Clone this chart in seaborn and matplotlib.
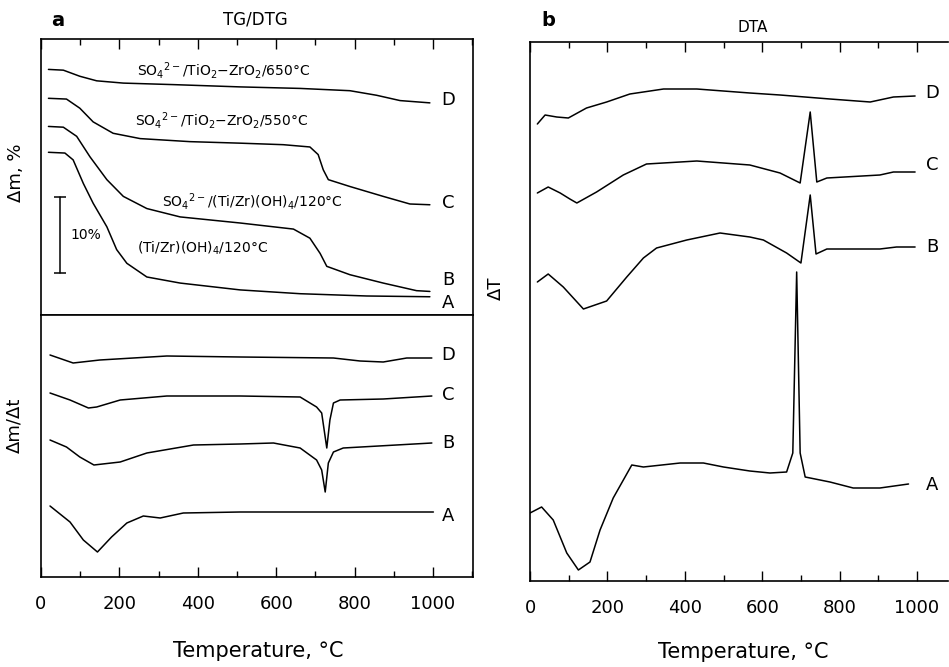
import numpy as np
import pandas as pd
import matplotlib
matplotlib.use("Agg")
import matplotlib.pyplot as plt
import seaborn as sns
from matplotlib.ticker import MultipleLocator

sns.set_theme(style="white")
plt.rcParams['font.family'] = ['DejaVu Sans']
plt.rcParams['mathtext.default'] = 'regular'
plt.rcParams['text.color'] = 'black'
plt.rcParams['axes.labelcolor'] = 'black'
plt.rcParams['xtick.color'] = 'black'
plt.rcParams['ytick.color'] = 'black'

# ---- TG curves (mass, %, arbitrary offset) ----
tg_d_t = [19, 57, 99, 142, 210, 338, 508, 661, 788, 856, 916, 992]
tg_d_y = [32.3, 32.2, 31.4, 30.8, 30.5, 30.3, 30.0, 29.8, 29.5, 28.9, 28.2, 27.9]

tg_c_t = [19, 65, 99, 133, 184, 253, 380, 508, 618, 686, 707, 720, 733, 788, 873, 941, 992]
tg_c_y = [28.5, 28.4, 27.2, 25.4, 23.9, 23.2, 22.8, 22.6, 22.4, 22.1, 21.1, 19.1, 17.8, 16.9, 15.6, 14.6, 14.5]

tg_b_t = [19, 57, 91, 125, 168, 210, 270, 355, 508, 644, 686, 712, 729, 788, 873, 958, 992]
tg_b_y = [24.8, 24.7, 23.5, 20.8, 17.8, 15.6, 14.0, 12.9, 12.1, 11.3, 10.1, 8.1, 6.4, 5.3, 4.2, 3.2, 3.1]

tg_a_t = [19, 61, 82, 108, 133, 168, 193, 219, 270, 355, 508, 661, 831, 992]
tg_a_y = [21.4, 21.3, 20.4, 17.3, 14.7, 11.6, 8.6, 6.8, 5.0, 4.2, 3.3, 2.8, 2.5, 2.4]

# ---- DTG curves (arbitrary units) ----
dtg_d_t = [23, 82, 150, 321, 508, 746, 814, 873, 933, 997]
dtg_d_y = [22.2, 21.4, 21.7, 22.1, 22.0, 21.9, 21.6, 21.5, 21.9, 21.9]

dtg_c_t = [23, 74, 121, 142, 202, 321, 508, 661, 703, 716, 729, 737, 746, 763, 873, 997]
dtg_c_y = [18.4, 17.7, 16.9, 17.0, 17.7, 18.1, 18.1, 18.0, 17.0, 16.4, 12.9, 15.7, 17.4, 17.7, 17.8, 18.1]

dtg_b_t = [23, 65, 99, 135, 202, 270, 389, 508, 593, 661, 703, 716, 725, 733, 746, 771, 997]
dtg_b_y = [13.7, 13.0, 12.0, 11.2, 11.5, 12.4, 13.2, 13.3, 13.4, 12.9, 11.7, 10.7, 8.5, 11.4, 12.5, 12.9, 13.4]

dtg_a_t = [23, 74, 108, 144, 180, 219, 261, 304, 363, 508, 1001]
dtg_a_y = [7.1, 5.5, 3.7, 2.5, 4.0, 5.4, 6.1, 5.9, 6.4, 6.5, 6.5]

# ---- DTA curves (arbitrary units) ----
dta_d_t = [19, 39, 69, 99, 146, 198, 258, 345, 431, 568, 646, 775, 879, 939, 995]
dta_d_y = [45.7, 46.6, 46.4, 46.3, 47.3, 47.9, 48.7, 49.2, 49.2, 48.8, 48.6, 48.2, 47.9, 48.4, 48.5]

dta_c_t = [19, 47, 78, 103, 121, 172, 241, 301, 431, 568, 646, 698, 724, 741, 767, 904, 939, 995]
dta_c_y = [38.8, 39.4, 38.8, 38.2, 37.8, 38.9, 40.6, 41.7, 42.0, 41.6, 40.8, 39.8, 46.9, 39.9, 40.3, 40.6, 40.9, 40.9]

dta_b_t = [19, 47, 86, 138, 198, 250, 293, 327, 405, 491, 568, 603, 663, 700, 724, 739, 767, 904, 947, 995]
dta_b_y = [29.9, 30.7, 29.4, 27.2, 28.0, 30.4, 32.3, 33.3, 34.1, 34.8, 34.4, 34.1, 32.8, 31.8, 38.6, 32.7, 33.2, 33.2, 33.4, 33.4]

dta_a_t = [0, 30, 60, 95, 125, 155, 181, 215, 263, 293, 388, 448, 500, 568, 620, 663, 679, 689, 698, 711, 775, 835, 904, 978]
dta_a_y = [6.8, 7.4, 6.1, 2.8, 1.1, 1.9, 5.1, 8.3, 11.6, 11.4, 11.8, 11.8, 11.4, 11.0, 10.8, 10.9, 12.8, 30.9, 12.8, 10.4, 9.9, 9.3, 9.3, 9.7]

curve_names = ["A", "B", "C", "D"]
tg_label_y = [1.6, 4.6, 14.7, 28.3]
dtg_label_y = [6.1, 13.4, 18.2, 22.2]
dta_label_y = [9.6, 33.4, 41.6, 48.8]

tg_notes = [r"SO$_4$$^{2-}$/TiO$_2$$-$ZrO$_2$/650°C",
            r"SO$_4$$^{2-}$/TiO$_2$$-$ZrO$_2$/550°C",
            r"SO$_4$$^{2-}$/(Ti/Zr)(OH)$_4$/120°C",
            r"(Ti/Zr)(OH)$_4$/120°C"]
tg_note_x = [245, 240, 308, 245]
tg_note_y = [32.2, 25.6, 14.9, 8.8]

W, H = 949, 667
fig = plt.figure(figsize=(W / 100, H / 100), dpi=100)
ax_tg = fig.add_axes([41 / W, 1 - 315 / H, 432 / W, 276 / H])
ax_dtg = fig.add_axes([41 / W, 1 - 577 / H, 432 / W, 262 / H])
ax_dta = fig.add_axes([530 / W, 1 - 581 / H, 418 / W, 539 / H])

lw = 1.1
tg = [(tg_a_t, tg_a_y), (tg_b_t, tg_b_y), (tg_c_t, tg_c_y), (tg_d_t, tg_d_y)]
dtg = [(dtg_a_t, dtg_a_y), (dtg_b_t, dtg_b_y), (dtg_c_t, dtg_c_y), (dtg_d_t, dtg_d_y)]
dta = [(dta_a_t, dta_a_y), (dta_b_t, dta_b_y), (dta_c_t, dta_c_y), (dta_d_t, dta_d_y)]

for ax, curves, lab_y, lab_x in [(ax_tg, tg, tg_label_y, 1038),
                                 (ax_dtg, dtg, dtg_label_y, 1038),
                                 (ax_dta, dta, dta_label_y, 1040)]:
    for (t, y), name, ly in zip(curves, curve_names, lab_y):
        sns.lineplot(x=t, y=y, ax=ax, color="black", lw=lw, estimator=None, sort=False)
        ax.text(lab_x, ly, name, fontsize=13, ha="center", va="center")

for note, nx_, ny_ in zip(tg_notes, tg_note_x, tg_note_y):
    ax_tg.text(nx_, ny_, note, fontsize=10, ha="left", va="center")

# 10% scale bar
ax_tg.plot([48, 48], [5.5, 15.5], color="black", lw=1.1, marker="_", ms=9, mew=1.1)
ax_tg.text(74, 10.5, "10%", fontsize=10, ha="left", va="center")

ax_tg.set_xlim(0, 1102)
ax_dtg.set_xlim(0, 1102)
ax_dta.set_xlim(0, 1080)
ax_tg.set_ylim(0, 36.3)
ax_dtg.set_ylim(0, 26.2)
ax_dta.set_ylim(0, 53.9)

for ax in (ax_tg, ax_dtg, ax_dta):
    ax.xaxis.set_major_locator(MultipleLocator(200))
    ax.xaxis.set_minor_locator(MultipleLocator(100))
    ax.set_yticks([])
    ax.set_xlabel("")
    ax.set_ylabel("")
    for s in ax.spines.values():
        s.set_color("black")
        s.set_linewidth(1.2)
    ax.tick_params(axis="x", which="major", direction="in", length=7, width=1.0,
                   color="black", labelsize=13, pad=13)
    ax.tick_params(axis="x", which="minor", direction="in", length=4, width=1.0, color="black")

ax_tg.tick_params(axis="x", which="both", top=True, bottom=False, labelbottom=False)
ax_dtg.tick_params(axis="x", which="both", top=False, bottom=True)
ax_dta.tick_params(axis="x", which="both", top=True, bottom=True)
ax_dta.spines["right"].set_visible(False)

ax_dtg.set_xticks([0, 200, 400, 600, 800, 1000])
ax_dta.set_xticks([0, 200, 400, 600, 800, 1000])

ax_tg.set_ylabel("Δm, %", fontsize=13)
ax_tg.yaxis.set_label_coords(-0.037, 0.514)
ax_dtg.set_ylabel("Δm/Δt", fontsize=13)
ax_dtg.yaxis.set_label_coords(-0.04, 0.58)
ax_dta.set_ylabel("ΔT", fontsize=13)
ax_dta.yaxis.set_label_coords(-0.06, 0.544)

ax_dtg.set_xlabel("Temperature, °C", fontsize=15)
ax_dtg.xaxis.set_label_coords(0.502, -0.245)
ax_dta.set_xlabel("Temperature, °C", fontsize=15)
ax_dta.xaxis.set_label_coords(0.51, -0.113)

fig.text(58 / W, 1 - 20 / H, "a", fontsize=14, fontweight="bold", ha="center", va="center")
fig.text(255 / W, 1 - 20 / H, "TG/DTG", fontsize=12, ha="center", va="center")
fig.text(548 / W, 1 - 20 / H, "b", fontsize=14, fontweight="bold", ha="center", va="center")
fig.text(753 / W, 1 - 27 / H, "DTA", fontsize=11, ha="center", va="center")

fig.savefig("out.png", dpi=100)
